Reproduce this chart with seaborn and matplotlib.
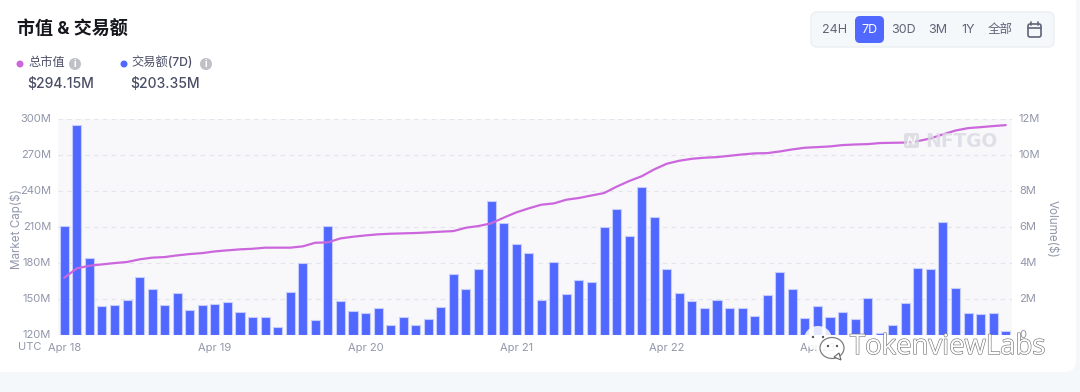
import numpy as np
import pandas as pd
import matplotlib
matplotlib.use("Agg")
import matplotlib.pyplot as plt
import matplotlib.patheffects as pe
from matplotlib.patches import FancyBboxPatch, Circle, Ellipse, Polygon
import seaborn as sns

# volume per 2h bucket, in millions
volume_m = [6.04, 11.63, 4.28, 1.59, 1.66, 1.94, 3.23, 2.57, 1.66, 2.31, 1.40, 1.64,
            1.72, 1.83, 1.27, 1.00, 0.98, 0.46, 2.38, 4.00, 0.85, 6.04, 1.86, 1.33,
            1.22, 1.48, 0.57, 1.02, 0.54, 0.90, 1.53, 3.40, 2.57, 3.67, 7.40, 6.20,
            5.06, 4.52, 1.92, 4.04, 2.25, 3.03, 2.95, 5.96, 7.00, 5.46, 8.23, 6.52,
            3.64, 2.34, 1.86, 1.48, 1.92, 1.48, 1.48, 1.07, 2.20, 3.50, 2.53, 0.92,
            1.62, 1.02, 1.29, 0.90, 2.07, 0.13, 0.54, 1.79, 3.71, 3.64, 6.28, 2.58,
            1.22, 1.14, 1.22, 0.24]
# market cap, in millions
market_cap_m = [167.6, 175.4, 177.6, 178.7, 179.8, 180.7, 182.9, 184.3, 184.8, 186.2, 187.3, 188.1,
                189.5, 190.4, 191.2, 191.7, 192.6, 192.6, 192.6, 193.7, 196.7, 197.0, 200.3, 201.7,
                202.8, 203.7, 204.2, 204.5, 204.8, 205.3, 205.9, 206.4, 209.2, 210.6, 212.8, 217.5,
                221.9, 225.3, 228.3, 229.4, 232.5, 233.9, 236.0, 238.0, 243.3, 248.0, 252.0, 257.7,
                262.4, 264.9, 266.5, 267.4, 267.9, 269.0, 270.1, 271.0, 271.2, 272.6, 274.3, 275.7,
                276.2, 276.8, 277.9, 278.4, 278.7, 279.6, 279.8, 280.0, 281.2, 283.4, 286.8, 290.0,
                292.0, 292.8, 293.7, 294.5]
date_labels = ["Apr 18", "Apr 19", "Apr 20", "Apr 21", "Apr 22", "Apr 23"]
cap_ticks = [120, 150, 180, 210, 240, 270, 300]
cap_labels = ["120M", "150M", "180M", "210M", "240M", "270M", "300M"]
vol_ticks = [0, 2, 4, 6, 8, 10, 12]
vol_labels = ["0", "2M", "4M", "6M", "8M", "10M", "12M"]
range_buttons = ["24H", "7D", "30D", "3M", "1Y", "全部"]

BLUE = "#5068FF"
PURPLE = "#CC66DC"
GREY = "#9196AA"
FONT = ["Inter", "Noto Sans CJK SC", "DejaVu Sans"]

sns.set_theme(style="white")
plt.rcParams["font.family"] = FONT

times = pd.date_range("2022-04-18", periods=len(volume_m), freq="2h")
df = pd.DataFrame({"slot": np.arange(len(volume_m)), "volume": volume_m, "cap": market_cap_m})
days = list(times.strftime("%b %d"))

fig = plt.figure(figsize=(10.8, 3.92), dpi=100, facecolor="#F5F8FA")

# page card and header sit in pixel coords behind the chart
bg = fig.add_axes([0, 0, 1, 1], zorder=0)
bg.set_xlim(0, 1080)
bg.set_ylim(392, 0)
bg.axis("off")
bg.add_patch(FancyBboxPatch((-30, -30), 1106, 402, boxstyle="round,pad=0,rounding_size=12",
                            fc="white", ec="none"))
bg.text(17, 30, "市值 & 交易额", fontsize=13, fontweight="bold", color="#16171d", va="center")
for dot_x, txt_x, info_x, name, val, col in [(20, 28, 75, "总市值", "$294.15M", PURPLE),
                                             (124, 131, 206, "交易额(7D)", "$203.35M", BLUE)]:
    bg.add_patch(Circle((dot_x, 64), 3.5, fc=col, ec="none"))
    bg.text(txt_x, 63, name, fontsize=8.8, color="#4A4F66", va="center", fontweight="medium")
    bg.add_patch(Circle((info_x, 64), 6, fc="#BFC1C7", ec="none"))
    bg.text(info_x, 64, "i", fontsize=7, color="white", ha="center", va="center", fontweight="bold")
    bg.text(txt_x - 1, 84, val, fontsize=10, color="#4A4F66", va="center", fontweight="medium")

bg.add_patch(FancyBboxPatch((811, 12), 243, 35, boxstyle="round,pad=0,rounding_size=6",
                            fc="#F5F8FA", ec="#ECEFF3", lw=1))
bg.add_patch(FancyBboxPatch((855, 16), 29, 27, boxstyle="round,pad=0,rounding_size=5",
                            fc=BLUE, ec="none"))
for lab, cx in zip(range_buttons, [835, 869, 903, 938, 968, 1000]):
    bg.text(cx, 30, lab, fontsize=9, ha="center", va="center",
            color="white" if lab == "7D" else "#5F6478")
# calendar icon
bg.add_patch(FancyBboxPatch((1028, 24), 13, 13, boxstyle="round,pad=0,rounding_size=2",
                            fc="none", ec="#5F6478", lw=1.2))
bg.plot([1028, 1041], [28, 28], color="#5F6478", lw=1.2)
bg.plot([1031, 1031], [22, 25], color="#5F6478", lw=1.2)
bg.plot([1038, 1038], [22, 25], color="#5F6478", lw=1.2)
bg.text(30, 347, "UTC", fontsize=8, color=GREY, ha="center", va="center")

# chart
ax_vol = fig.add_axes([58 / 1080, 1 - 335 / 392, 954 / 1080, 216.5 / 392], zorder=1)
ax_vol.set_facecolor("#F8F8FB")
sns.barplot(data=df, x="slot", y="volume", ax=ax_vol, color=BLUE, saturation=1, width=0.72,
            edgecolor="#C5CDFF", linewidth=0.8)
ax_vol.set_axisbelow(True)
ax_vol.yaxis.grid(True, color="#E4E5EC", linestyle=(0, (4, 4)), linewidth=0.8)
ax_vol.xaxis.grid(False)

ax_cap = ax_vol.twinx()
ax_cap.set_zorder(2)
ax_cap.patch.set_visible(False)
sns.lineplot(data=df, x="slot", y="cap", ax=ax_cap, color=PURPLE, linewidth=1.6, errorbar=None)

ax_vol.set_xlim(-0.5, 75.5)
ax_vol.set_ylim(vol_ticks[0], vol_ticks[-1])
ax_cap.set_ylim(cap_ticks[0], cap_ticks[-1])

ax_vol.set_yticks(vol_ticks, vol_labels)
ax_cap.set_yticks(cap_ticks, cap_labels)
ax_vol.yaxis.tick_right()
ax_vol.yaxis.set_label_position("right")
ax_cap.yaxis.tick_left()
ax_cap.yaxis.set_label_position("left")
ax_vol.set_xticks([days.index(d) for d in date_labels], date_labels)
ax_vol.tick_params(axis="x", length=0, pad=6, labelsize=8, labelcolor=GREY)
ax_vol.tick_params(axis="y", length=0, pad=5, labelsize=8, labelcolor=GREY)
ax_cap.tick_params(axis="y", length=0, pad=5, labelsize=8, labelcolor=GREY)
for lab in ax_vol.get_yticklabels() + ax_cap.get_yticklabels():
    lab.set_verticalalignment("center")
ax_vol.set_xlabel("")
ax_vol.set_ylabel("Volume($)", rotation=270, fontsize=8.4, color=GREY)
ax_cap.set_ylabel("Market Cap($)", fontsize=8.4, color=GREY)
ax_vol.yaxis.set_label_coords(1.048, 0.49)
ax_cap.yaxis.set_label_coords(-0.037, 0.49)
for a in (ax_vol, ax_cap):
    sns.despine(ax=a, left=True, right=True, top=True, bottom=True)

# watermarks on top
fg = fig.add_axes([0, 0, 1, 1], zorder=5)
fg.set_xlim(0, 1080)
fg.set_ylim(392, 0)
fg.axis("off")
fg.patch.set_visible(False)
fg.add_patch(FancyBboxPatch((904, 133), 15, 15, boxstyle="round,pad=0,rounding_size=2.5",
                            fc="#D6D7DE", ec="none", alpha=0.75))
fg.plot([907.5, 909.5, 913.5, 915.5], [145, 137, 144, 136], color="white", lw=1.2, alpha=0.8)
fg.text(925, 141, "NFTGO", fontsize=13.4, fontweight="bold", color="#D9DAE2", va="center",
        family="DejaVu Sans", alpha=0.8)
fg.add_patch(Ellipse((818, 338), 27, 24, fc="white", ec="none", alpha=0.85))
fg.add_patch(Ellipse((832, 348), 24, 21, fc="white", ec="#666666", lw=0.9, alpha=0.85))
fg.add_patch(Polygon([[834, 357], [841, 360], [839, 353]], fc="white", ec="#666666", lw=0.8))
for ex, ey in [(813, 337), (823, 337), (828, 346), (837, 346)]:
    fg.add_patch(Circle((ex, ey), 1.2, fc="#555555", ec="none"))
fg.text(850, 347, "TokenviewLabs", fontsize=19.8, color="white", va="center", family="Open Sans",
        path_effects=[pe.Stroke(linewidth=0.9, foreground="#777777"), pe.Normal()])

fig.savefig("out.png", dpi=100, facecolor=fig.get_facecolor())
